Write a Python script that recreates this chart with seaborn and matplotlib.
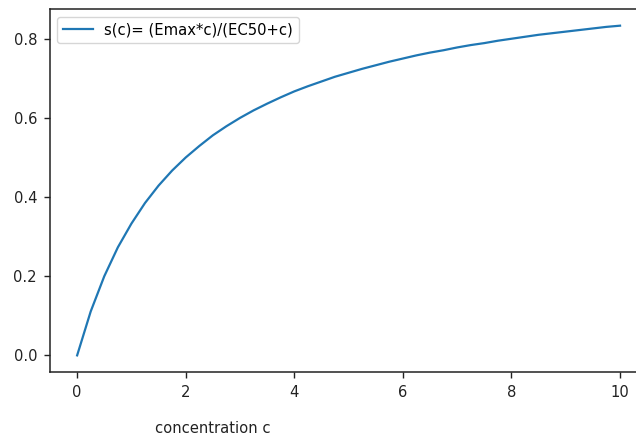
import numpy as np
import pandas as pd
import matplotlib
matplotlib.use('Agg')
import matplotlib.pyplot as plt
import seaborn as sns

# Concentration values and response.
conc = [0.0, 0.25, 0.5, 0.75, 1.0, 1.25, 1.5, 1.75, 2.0, 2.25, 2.5, 2.75, 3.0, 3.25,
        3.5, 3.75, 4.0, 4.25, 4.5, 4.75, 5.0, 5.25, 5.5, 5.75, 6.0, 6.25, 6.5, 6.75,
        7.0, 7.25, 7.5, 7.75, 8.0, 8.25, 8.5, 8.75, 9.0, 9.25, 9.5, 9.75, 10.0]
response = [0.000, 0.111, 0.200, 0.273, 0.333, 0.385, 0.429, 0.467, 0.500, 0.529,
            0.556, 0.579, 0.600, 0.619, 0.636, 0.652, 0.667, 0.680, 0.692, 0.704,
            0.714, 0.724, 0.733, 0.742, 0.750, 0.758, 0.765, 0.771, 0.778, 0.784,
            0.789, 0.795, 0.800, 0.805, 0.810, 0.814, 0.818, 0.822, 0.826, 0.830, 0.833]
legend_label = 's(c)= (Emax*c)/(EC50+c)'

df = pd.DataFrame({'c': conc, 's': response})

fig = plt.figure(figsize=(6.36, 4.38), dpi=100)
ax = fig.add_axes([0.0786, 0.151, 0.939, 0.828])

sns.lineplot(data=df, x='c', y='s', color='#1f77b4', linewidth=1.6,
             label=legend_label, ax=ax)

for side in ax.spines.values():
    side.set_linewidth(1.1)
    side.set_color('#222222')

ax.set_xticks([0, 2, 4, 6, 8, 10])
ax.set_yticks([0.0, 0.2, 0.4, 0.6, 0.8])
ax.tick_params(labelsize=10.6, colors='#222222', length=4.3, width=1.0, pad=5)
ax.set_ylabel('')
ax.set_xlabel('concentration c', fontsize=10.6, color='#222222')
ax.xaxis.set_label_coords(0.273, -0.135)
ax.legend(loc='upper left', fontsize=10.6)

fig.savefig('out.png', dpi=100)
